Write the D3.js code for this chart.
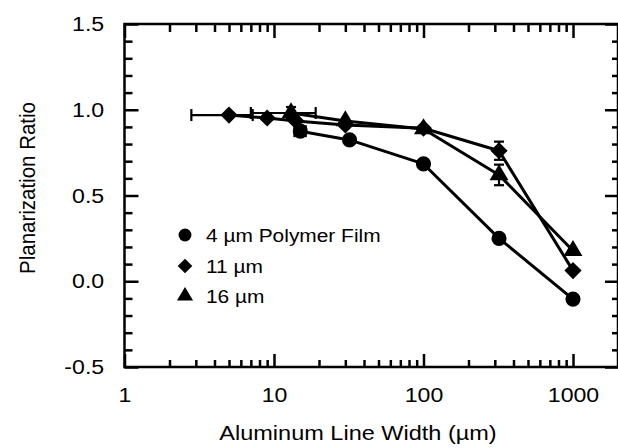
<!DOCTYPE html>
<html><head><meta charset="utf-8">
<script src="https://cdn.jsdelivr.net/npm/d3@7"></script>
<style>
body{margin:0;background:#fff}
svg{display:block}
text{font-family:"Liberation Sans",Arial,Helvetica,sans-serif;fill:#000}
</style>
</head><body><svg id="c" width="618" height="448"></svg>
<script>
// ---- data ----
const seriesNames = ["4 \u00B5m Polymer Film", "11 \u00B5m", "16 \u00B5m"];
const seriesSymbols = ["circle", "diamond", "triangle"];
const x4  = [15, 32, 100, 320, 1000];
const y4  = [0.875, 0.824, 0.684, 0.250, -0.104];
const ex4 = [1.3, 0, 0, 0, 0];
const ey4 = [0, 0, 0, 0, 0];
const x11  = [5, 9, 14, 30, 100, 320, 1000];
const y11  = [0.969, 0.952, 0.935, 0.911, 0.892, 0.761, 0.062];
const ex11 = [2.2, 0, 0, 0, 0, 0, 0];
const ey11 = [0, 0, 0, 0, 0, 0.053, 0];
const x16  = [13, 30, 100, 320, 1000];
const y16  = [0.981, 0.935, 0.888, 0.620, 0.178];
const ex16 = [6, 0, 0, 0, 0];
const ey16 = [0.035, 0, 0, 0.06, 0];
const xTickValues = [1, 10, 100, 1000];
const xTickLabels = ["1", "10", "100", "1000"];
const yTickValues = [-0.5, 0.0, 0.5, 1.0, 1.5];
const yTickLabels = ["-0.5", "0.0", "0.5", "1.0", "1.5"];
const xTitle = "Aluminum Line Width (\u00B5m)";
const yTitle = "Planarization Ratio";

const series = [
  {name: seriesNames[0], sym: seriesSymbols[0], xs: x4, ys: y4, ex: ex4, ey: ey4},
  {name: seriesNames[1], sym: seriesSymbols[1], xs: x11, ys: y11, ex: ex11, ey: ey11},
  {name: seriesNames[2], sym: seriesSymbols[2], xs: x16, ys: y16, ex: ex16, ey: ey16}
];

// ---- layout ----
const L = 124.5, R = 618, T = 24, B = 367;
const svg = d3.select("#c");
const x = d3.scaleLog().domain([1, 2000]).range([L, R]);
const y = d3.scaleLinear().domain([-0.5, 1.5]).range([B, T]);
const SX = 1.1; // horizontal stretch of the original lettering

const xMinor = [];
[1, 10, 100, 1000].forEach(d => { for (let k = 2; k <= 9; k++) if (k * d <= 2000) xMinor.push(k * d); });
const yMinor = d3.range(-5, 16).map(v => v / 10).filter(v => Math.abs(v * 2 - Math.round(v * 2)) > 1e-6);

function styleAxis(g) {
  g.select(".domain").remove();
  g.selectAll("line").attr("stroke", "#000").attr("stroke-width", 2.5);
}

// bottom
svg.append("g").attr("transform", `translate(0,${B})`)
  .call(d3.axisBottom(x).tickValues(xMinor).tickSize(-7).tickFormat(""))
  .call(styleAxis);
const gb = svg.append("g").attr("transform", `translate(0,${B})`)
  .call(d3.axisBottom(x).tickValues(xTickValues).tickSize(-13).tickPadding(20)
    .tickFormat((d, i) => xTickLabels[i]))
  .call(styleAxis);
gb.selectAll("text").attr("font-size", 21).attr("font-family", null).attr("transform", `scale(${SX},1)`);

// top
svg.append("g").attr("transform", `translate(0,${T})`)
  .call(d3.axisTop(x).tickValues(xMinor).tickSize(-8).tickFormat(""))
  .call(styleAxis);
svg.append("g").attr("transform", `translate(0,${T})`)
  .call(d3.axisTop(x).tickValues(xTickValues).tickSize(-14).tickFormat(""))
  .call(styleAxis);

// left
svg.append("g").attr("transform", `translate(${L},0)`)
  .call(d3.axisLeft(y).tickValues(yMinor).tickSize(-8).tickFormat(""))
  .call(styleAxis);
const gl = svg.append("g").attr("transform", `translate(${L},0)`)
  .call(d3.axisLeft(y).tickValues(yTickValues).tickSize(-14).tickPadding(18.5)
    .tickFormat((d, i) => yTickLabels[i]))
  .call(styleAxis);
gl.selectAll("text").attr("font-size", 21).attr("font-family", null).attr("transform", `scale(${SX},1)`);

// right
svg.append("g").attr("transform", `translate(${R},0)`)
  .call(d3.axisRight(y).tickValues(yMinor).tickSize(-6).tickFormat(""))
  .call(styleAxis);
svg.append("g").attr("transform", `translate(${R},0)`)
  .call(d3.axisRight(y).tickValues(yTickValues).tickSize(-13).tickFormat(""))
  .call(styleAxis);

// frame
svg.append("rect").attr("x", L).attr("y", T).attr("width", R - L).attr("height", B - T)
  .attr("fill", "none").attr("stroke", "#000").attr("stroke-width", 2.5);

// titles
svg.append("text").attr("transform", `translate(358,440) scale(1.12,1)`)
  .attr("text-anchor", "middle").attr("font-size", 21).text(xTitle);
svg.append("text").attr("transform", `translate(35,188) rotate(-90) scale(1,1.1)`)
  .attr("text-anchor", "middle").attr("font-size", 20.5).text(yTitle);

// symbols
function symPath(sym, scale) {
  scale = scale || 1;
  if (sym === "circle") return d3.symbol(d3.symbolCircle, 180 * scale * scale)();
  if (sym === "diamond") { // square rotated 45°
    const h = 8.6 * scale;
    return `M0,${-h}L${h},0L0,${h}L${-h},0Z`;
  }
  const w = 9.5 * scale, hh = 16 * scale;
  return `M0,${-hh * 2 / 3}L${w},${hh / 3}L${-w},${hh / 3}Z`;
}

const line = d3.line().x(d => x(d[0])).y(d => y(d[1]));
const plot = svg.append("g");

series.forEach(s => {
  const pts = s.xs.map((v, i) => [v, s.ys[i]]);
  plot.append("path").attr("d", line(pts)).attr("fill", "none")
    .attr("stroke", "#000").attr("stroke-width", 3).attr("stroke-linejoin", "round");
});

series.forEach(s => {
  s.xs.forEach((v, i) => {
    const cx = x(v), cy = y(s.ys[i]);
    const g = plot.append("g").attr("stroke", "#000").attr("stroke-width", 2.2);
    if (s.ex[i] > 0) {
      const x0 = x(v - s.ex[i]), x1 = x(v + s.ex[i]);
      g.append("line").attr("x1", x0).attr("x2", x1).attr("y1", cy).attr("y2", cy);
      g.append("line").attr("x1", x0).attr("x2", x0).attr("y1", cy - 6).attr("y2", cy + 6);
      g.append("line").attr("x1", x1).attr("x2", x1).attr("y1", cy - 6).attr("y2", cy + 6);
    }
    if (s.ey[i] > 0) {
      const y0 = y(s.ys[i] - s.ey[i]), y1 = y(s.ys[i] + s.ey[i]);
      g.append("line").attr("x1", cx).attr("x2", cx).attr("y1", y0).attr("y2", y1);
      g.append("line").attr("x1", cx - 5).attr("x2", cx + 5).attr("y1", y0).attr("y2", y0);
      g.append("line").attr("x1", cx - 5).attr("x2", cx + 5).attr("y1", y1).attr("y2", y1);
    }
    plot.append("path").attr("d", symPath(s.sym))
      .attr("transform", `translate(${cx},${cy})`).attr("fill", "#000");
  });
});

// legend
const legY = [235, 266, 296];
series.forEach((s, i) => {
  svg.append("path").attr("d", symPath(s.sym, 0.85))
    .attr("transform", `translate(185,${legY[i]})`).attr("fill", "#000");
  svg.append("text").attr("transform", `translate(206,${legY[i] + 7}) scale(${SX},1)`)
    .attr("font-size", 19).text(s.name);
});
</script>
</body></html>
